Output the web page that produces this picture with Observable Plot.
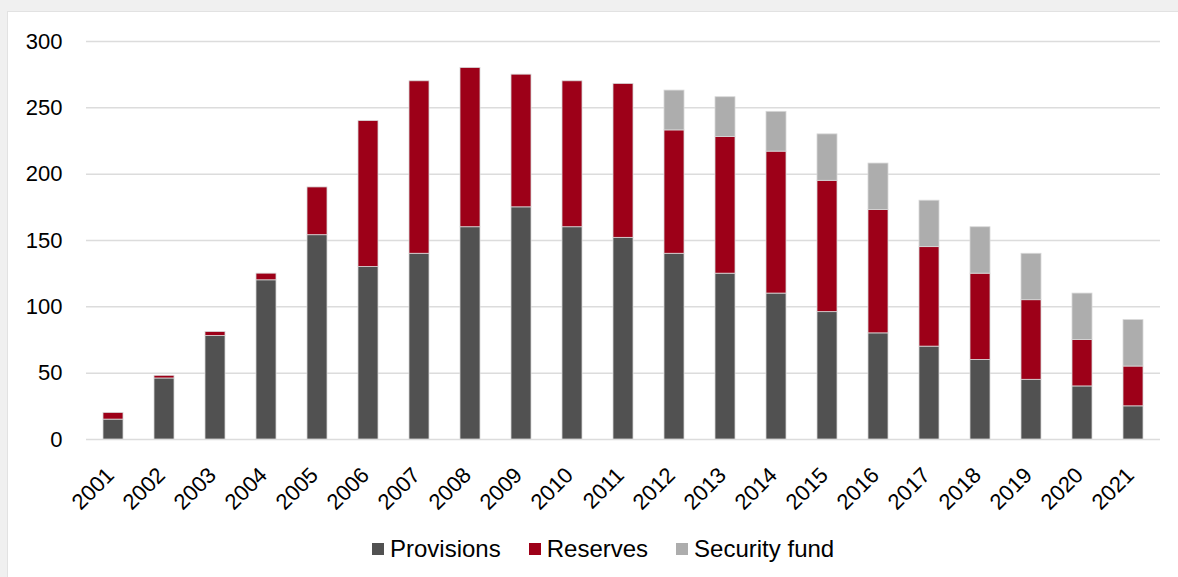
<!DOCTYPE html>
<html>
<head>
<meta charset="utf-8">
<script src="https://cdn.jsdelivr.net/npm/d3@7"></script>
<script src="https://cdn.jsdelivr.net/npm/@observablehq/plot@0.6"></script>
<style>
  html, body { margin: 0; padding: 0; background: #f0f0f0; overflow: hidden; }
  #panel {
    position: absolute; left: 7px; top: 11px; width: 1180px; height: 580px;
    background: #ffffff; border-left: 1px solid #e2e2e2; border-top: 1px solid #e2e2e2;
    font-family: "Liberation Sans", Arial, sans-serif;
  }
  #legend {
    display: flex; justify-content: flex-start; align-items: center;
    font-size: 24px; color: #000; height: 26px; line-height: 26px;
    margin-top: 14px; padding-left: 364px;
  }
  .item { display: flex; align-items: center; margin-right: 28px; }
  .sw { width: 12px; height: 12px; margin-right: 6px; display: inline-block; }
</style>
</head>
<body>
<div id="panel"><div id="chart"></div><div id="legend"></div></div>
<script>
const years = ["2001","2002","2003","2004","2005","2006","2007","2008","2009","2010","2011","2012","2013","2014","2015","2016","2017","2018","2019","2020","2021"];
const provisions   = [15, 46, 78, 120, 154, 130, 140, 160, 175, 160, 152, 140, 125, 110, 96, 80, 70, 60, 45, 40, 25];
const reserves     = [5, 2, 3, 5, 36, 110, 130, 120, 100, 110, 116, 93, 103, 107, 99, 93, 75, 65, 60, 35, 30];
const securityFund = [0, 0, 0, 0, 0, 0, 0, 0, 0, 0, 0, 30, 30, 30, 35, 35, 35, 35, 35, 35, 35];
const seriesNames  = ["Provisions", "Reserves", "Security fund"];
const seriesColors = ["#515151", "#9d0018", "#adadad"];
const yTicks = [0, 50, 100, 150, 200, 250, 300];

const seriesValues = [provisions, reserves, securityFund];
const rows = [];
seriesNames.forEach((s, si) => {
  years.forEach((y, i) => {
    if (seriesValues[si][i] > 0) rows.push({year: y, series: s, value: seriesValues[si][i]});
  });
});

const chart = Plot.plot({
  width: 1162,
  height: 510,
  marginLeft: 78,
  marginRight: 10,
  marginTop: 29,
  marginBottom: 83,
  style: {fontFamily: "'Liberation Sans', Arial, sans-serif", background: "transparent", color: "#000"},
  x: {domain: years, paddingInner: 0.61, paddingOuter: 0.305, label: null},
  y: {domain: [0, 300], ticks: yTicks, label: null},
  color: {domain: seriesNames, range: seriesColors},
  marks: [
    Plot.gridY(yTicks, {stroke: "#dcdcdc", strokeOpacity: 1, strokeWidth: 1.5}),
    Plot.barY(rows, Plot.stackY({
      x: "year", y: "value", fill: "series",
      order: seriesNames,
      stroke: "#d8d8d8", strokeWidth: 0.8
    })),
    Plot.axisY(yTicks, {tickSize: 0, tickPadding: 24, fontSize: 22, label: null}),
    Plot.axisX({tickSize: 0, tickRotate: -45, tickPadding: 28, dx: -3, dy: 4, fontSize: 22, label: null})
  ]
});
document.getElementById("chart").appendChild(chart);

const legend = document.getElementById("legend");
seriesNames.forEach((s, i) => {
  const it = document.createElement("div");
  it.className = "item";
  const sw = document.createElement("span");
  sw.className = "sw";
  sw.style.background = seriesColors[i];
  const tx = document.createElement("span");
  tx.textContent = s;
  it.appendChild(sw); it.appendChild(tx);
  legend.appendChild(it);
});
</script>
</body>
</html>
